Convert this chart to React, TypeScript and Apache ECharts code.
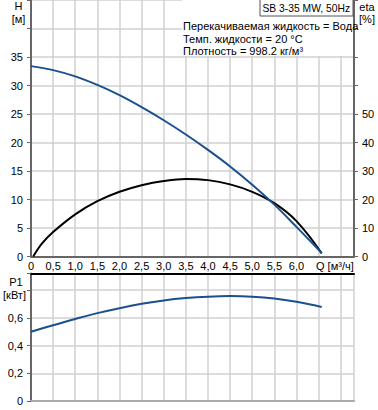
import React, { useEffect, useRef } from "react";
import * as echarts from "echarts";

const qPts = [0, 0.5, 1, 1.5, 2, 2.5, 3, 3.5, 4, 4.5, 5, 5.5, 6, 6.57];
const headVals = [33.4, 32.7, 31.6, 30.1, 28.3, 26.2, 23.9, 21.4, 18.7, 15.8, 12.6, 9.1, 5.2, 0.6];
const etaQ = [0.05, 0.25, 0.5, 1, 1.5, 2, 2.5, 3, 3.5, 4, 4.5, 5, 5.5, 6, 6.57];
const etaVals = [0, 4.6, 8.6, 14.8, 19.4, 22.7, 25.0, 26.5, 27.2, 26.8, 25.3, 22.7, 18.7, 12.4, 1.1];
const powerVals = [0.5, 0.547, 0.592, 0.634, 0.67, 0.701, 0.726, 0.743, 0.753, 0.757, 0.753, 0.74, 0.716, 0.679];

const titleText = "SB 3-35 MW, 50Hz";
const infoLines = [
  "Перекачиваемая жидкость = Вода",
  "Темп. жидкости = 20 °C",
  "Плотность = 998.2 кг/м³",
];

const FONT = "Liberation Sans, Arial, sans-serif";
const GRID_COLOR = "#d0d0d0";
const AXIS_COLOR = "#666";
const BLUE = "#1c4f8f";

const fmtComma = (v: number) => (v === 0 ? "0" : v.toFixed(1).replace(".", ","));

export default function App() {
  const ref = useRef<HTMLDivElement>(null);
  useEffect(() => {
    if (!ref.current) return;
    const chart = echarts.init(ref.current, null, { renderer: "svg" });
    const txt = (x: number, y: number, t: string, align = "center", size = 11) => ({
      type: "text",
      x,
      y,
      z: 20,
      style: { text: t, fill: "#000", font: `${size}px ${FONT}`, align, verticalAlign: "middle" },
    });
    chart.setOption({
      animation: false,
      textStyle: { fontFamily: FONT },
      grid: [
        { left: 31, top: 0, width: 323, height: 256.5 },
        { left: 31, top: 273.5, width: 323, height: 127.5 },
      ],
      xAxis: [
        {
          type: "value",
          gridIndex: 0,
          min: 0,
          max: 7.3,
          interval: 0.5,
          axisLine: { show: true, lineStyle: { color: AXIS_COLOR, width: 2 } },
          axisTick: { show: false },
          axisLabel: {
            color: "#000",
            fontSize: 11,
            margin: 4,
            formatter: (v: number) => (v > 6.01 ? "" : fmtComma(v)),
          },
          splitLine: { show: true, lineStyle: { color: GRID_COLOR, width: 1.5 } },
        },
        {
          type: "value",
          gridIndex: 1,
          min: 0,
          max: 7.3,
          interval: 0.5,
          axisLine: { show: true, onZero: false, lineStyle: { color: "#aaa", width: 2 } },
          axisTick: { show: false },
          axisLabel: { show: false },
          splitLine: { show: true, lineStyle: { color: GRID_COLOR, width: 1.5 } },
        },
        {
          type: "value",
          gridIndex: 1,
          position: "top",
          min: 0,
          max: 7.3,
          interval: 0.5,
          axisLine: { show: true, onZero: false, lineStyle: { color: "#000", width: 2 } },
          axisTick: { show: false },
          axisLabel: { show: false },
          splitLine: { show: false },
        },
      ],
      yAxis: [
        {
          type: "value",
          gridIndex: 0,
          min: 0,
          max: 45,
          interval: 5,
          axisLine: { show: true, lineStyle: { color: AXIS_COLOR, width: 2 } },
          axisTick: { show: true, length: 4, lineStyle: { color: AXIS_COLOR } },
          axisLabel: { color: "#000", fontSize: 11, margin: 8, formatter: (v: number) => (v <= 35 ? String(v) : "") },
          splitLine: { show: true, lineStyle: { color: GRID_COLOR, width: 1.5 } },
        },
        {
          type: "value",
          gridIndex: 0,
          position: "right",
          min: 0,
          max: 90,
          interval: 10,
          axisLine: { show: true, lineStyle: { color: AXIS_COLOR, width: 2 } },
          axisTick: { show: true, length: 4, lineStyle: { color: AXIS_COLOR } },
          axisLabel: { color: "#000", fontSize: 11, margin: 8, formatter: (v: number) => (v <= 50 ? String(v) : "") },
          splitLine: { show: false },
        },
        {
          type: "value",
          gridIndex: 1,
          min: 0,
          max: 0.92,
          interval: 0.2,
          axisLine: { show: true, lineStyle: { color: AXIS_COLOR, width: 2 } },
          axisTick: { show: true, length: 4, lineStyle: { color: AXIS_COLOR } },
          axisLabel: {
            color: "#000",
            fontSize: 11,
            margin: 8,
            formatter: (v: number) => (v <= 0.61 ? fmtComma(v) : ""),
          },
          splitLine: { show: true, lineStyle: { color: GRID_COLOR, width: 1.5 } },
        },
      ],
      series: [
        {
          type: "line",
          xAxisIndex: 0,
          yAxisIndex: 0,
          smooth: 0.4,
          showSymbol: false,
          lineStyle: { color: BLUE, width: 2 },
          data: qPts.map((q, i) => [q, headVals[i]]),
          z: 5,
        },
        {
          type: "line",
          xAxisIndex: 0,
          yAxisIndex: 1,
          smooth: 0.4,
          showSymbol: false,
          lineStyle: { color: "#000", width: 2 },
          data: etaQ.map((q, i) => [q, etaVals[i]]),
          z: 4,
        },
        {
          type: "line",
          xAxisIndex: 1,
          yAxisIndex: 2,
          smooth: 0.4,
          showSymbol: false,
          lineStyle: { color: BLUE, width: 2 },
          data: qPts.map((q, i) => [q, powerVals[i]]),
          z: 5,
        },
      ],
      graphic: [
        { type: "rect", z: 10, shape: { x: 182, y: 0, width: 171, height: 56 }, style: { fill: "#fff" } },
        {
          type: "rect",
          z: 11,
          shape: { x: 260, y: -1, width: 93, height: 17 },
          style: { fill: "#fff", stroke: "#555", lineWidth: 1 },
        },
        txt(262.5, 8, titleText, "left", 10.3),
        txt(183, 26, infoLines[0], "left"),
        txt(183, 38.5, infoLines[1], "left"),
        txt(183, 51, infoLines[2], "left"),
        txt(18.5, 6, "H"),
        txt(18.5, 18.5, "[м]"),
        txt(367, 7, "eta"),
        txt(367, 18.5, "[%]"),
        txt(316, 266, "Q [м³/ч]", "left"),
        txt(16, 282, "P1"),
        txt(14.5, 295, "[кВт]"),
      ],
    });
    return () => chart.dispose();
  }, []);
  return <div ref={ref} style={{ position: "fixed", left: 0, top: 0, width: 378, height: 410, background: "#fff" }} />;
}
